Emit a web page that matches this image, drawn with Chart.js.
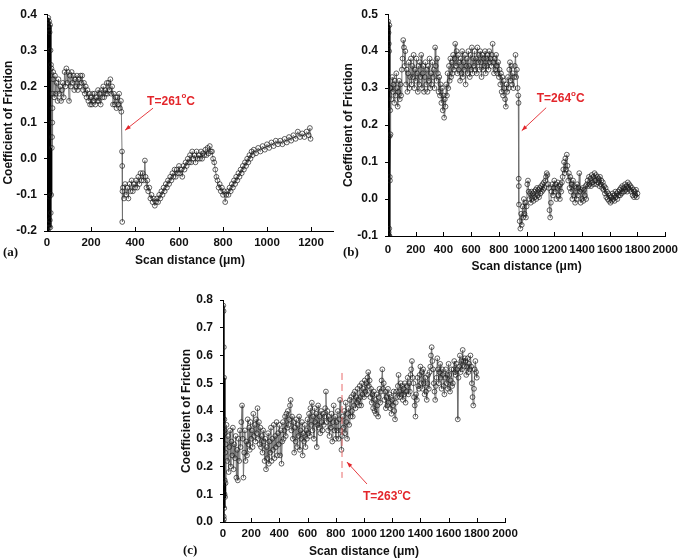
<!DOCTYPE html>
<html lang="en">
<head>
<meta charset="UTF-8">
<title>Coefficient of Friction vs Scan distance</title>
<script src="https://cdn.jsdelivr.net/npm/chart.js"></script>
<style>
  body { margin: 0; background: #fff; }
  #wrap { position: relative; width: 685px; height: 560px; }
  canvas { position: absolute; }
  .tag { position: absolute; font: bold 13px "Liberation Serif", "Times New Roman", serif; color: #111; }
</style>
</head>
<body>
<div id="wrap">
  <canvas id="chartA" width="340" height="270" style="left:0px;top:0px"></canvas>
  <canvas id="chartB" width="345" height="275" style="left:340px;top:0px"></canvas>
  <canvas id="chartC" width="350" height="275" style="left:178px;top:285px"></canvas>
  <div class="tag" style="left:3px;top:244px">(a)</div>
  <div class="tag" style="left:343px;top:244px">(b)</div>
  <div class="tag" style="left:183px;top:542px">(c)</div>
</div>
<script>
// x tick labels
const ticksA = [0, 200, 400, 600, 800, 1000, 1200];
const ticksB = [0, 200, 400, 600, 800, 1000, 1200, 1400, 1600, 1800, 2000];
const ticksC = [0, 200, 400, 600, 800, 1000, 1200, 1400, 1600, 1800, 2000];

// (a) scan distance (um) / coefficient of friction
const scanA = [
  2,3,4,5,6,7,8,9,10,11,
  12,13,14,15,16,17,18,19,20,22,
  23,24,25,26,27,28,32,36,40,44,
  48,52,56,60,64,68,72,76,80,84,
  88,92,96,100,104,108,112,116,120,124,
  128,132,136,140,144,148,152,156,160,164,
  168,172,176,180,184,188,192,196,200,204,
  208,212,216,220,224,228,232,236,240,244,
  248,252,256,260,264,268,272,276,280,284,
  288,292,296,300,304,308,312,316,320,324,
  328,332,336,338,341,342,342,343,345,350,
  355,360,365,370,375,380,385,390,395,400,
  405,410,415,420,425,430,435,440,445,448,
  452,456,460,465,470,475,480,485,490,495,
  500,505,510,515,520,525,530,535,540,545,
  550,555,560,565,570,575,580,585,590,595,
  600,605,610,615,620,625,630,635,640,645,
  650,655,660,665,670,675,680,685,690,695,
  700,705,710,715,720,725,730,735,740,745,
  750,755,760,765,770,775,780,785,790,795,
  800,805,810,815,820,825,830,835,840,845,
  850,855,860,865,870,875,880,885,890,895,
  900,905,910,915,920,925,930,935,940,950,
  960,970,980,990,1000,1010,1020,1030,1040,1050,
  1060,1070,1080,1090,1100,1110,1120,1130,1140,1150,
  1160,1170,1180,1190,1195,1198
];
const cofA = [
  0.38,-0.19,0.37,-0.2,0.39,-0.18,0.36,-0.19,0.38,-0.105,
  0.35,-0.17,0.37,-0.19,0.3,-0.15,0.26,-0.1,0.25,0.03,
  0.06,0.1,0.14,0.18,0.22,0.24,0.17,0.23,0.18,0.21,
  0.16,0.22,0.18,0.2,0.16,0.19,0.21,0.17,0.24,0.2,
  0.25,0.21,0.24,0.16,0.23,0.2,0.24,0.21,0.23,0.19,
  0.22,0.2,0.23,0.19,0.22,0.2,0.23,0.21,0.23,0.19,
  0.21,0.18,0.2,0.17,0.19,0.16,0.18,0.15,0.17,0.15,
  0.18,0.16,0.18,0.15,0.17,0.16,0.19,0.16,0.18,0.15,
  0.19,0.17,0.2,0.17,0.19,0.18,0.21,0.18,0.21,0.19,
  0.22,0.18,0.2,0.15,0.18,0.15,0.17,0.14,0.17,0.15,
  0.18,0.14,0.16,0.13,0.02,-0.02,-0.175,-0.09,-0.08,-0.11,
  -0.07,-0.1,-0.08,-0.11,-0.07,-0.09,-0.06,-0.09,-0.07,-0.08,
  -0.06,-0.08,-0.05,-0.07,-0.04,-0.06,-0.04,-0.06,-0.005,-0.05,
  -0.08,-0.06,-0.09,-0.08,-0.11,-0.1,-0.12,-0.11,-0.13,-0.12,
  -0.11,-0.12,-0.1,-0.11,-0.09,-0.1,-0.08,-0.09,-0.07,-0.08,
  -0.06,-0.07,-0.05,-0.06,-0.04,-0.05,-0.03,-0.05,-0.03,-0.04,
  -0.02,-0.04,-0.03,-0.05,-0.02,-0.03,-0.01,-0.02,0.0,-0.01,
  0.01,-0.01,0.02,0.0,0.01,-0.01,0.02,0.0,0.01,0.0,
  0.02,0.0,0.015,0.01,0.025,0.01,0.03,0.015,0.035,0.02,
  0.02,0.0,-0.01,-0.03,-0.05,-0.06,-0.08,-0.07,-0.09,-0.08,
  -0.1,-0.09,-0.12,-0.1,-0.09,-0.1,-0.08,-0.09,-0.07,-0.08,
  -0.06,-0.07,-0.05,-0.06,-0.04,-0.05,-0.03,-0.04,-0.02,-0.03,
  -0.01,-0.02,0.0,-0.01,0.01,0.0,0.02,0.01,0.025,0.015,
  0.03,0.02,0.035,0.025,0.04,0.03,0.045,0.035,0.05,0.04,
  0.05,0.04,0.055,0.045,0.06,0.05,0.065,0.055,0.075,0.06,
  0.07,0.06,0.075,0.065,0.085,0.055
];

// (b)
const scanB = [
  2,3,4,5,6,7,8,9,10,11,12,13,14,15,16,18,
  20,25,30,35,40,45,50,55,60,65,
  70,75,80,85,90,95,100,105,110,115,
  120,125,130,135,140,145,150,155,160,165,
  170,175,180,185,190,195,200,205,210,215,
  220,225,230,235,240,245,250,255,260,265,
  270,275,280,285,290,295,300,305,310,315,
  320,325,330,335,340,345,350,355,360,365,
  370,375,380,385,390,395,400,405,410,415,
  420,425,430,435,440,445,450,455,460,465,
  470,475,480,485,490,495,500,505,510,515,
  520,525,530,535,540,545,550,555,560,565,
  570,575,580,585,590,595,600,605,610,615,
  620,625,630,635,640,645,650,655,660,665,
  670,675,680,685,690,695,700,705,710,715,
  720,725,730,735,740,745,750,755,760,765,
  770,775,780,785,790,795,800,805,810,815,
  820,825,830,835,840,845,850,855,860,865,
  870,875,880,885,890,895,900,905,910,915,
  920,925,930,935,940,942,943,944,945,
  950,955,960,965,970,975,980,985,990,995,
  1000,1005,1010,1015,1020,1025,1030,1035,1040,1045,
  1050,1055,1060,1065,1070,1075,1080,1085,1090,1095,
  1100,1105,1110,1115,1120,1125,1130,1135,1140,1145,
  1150,1155,1160,1165,1170,1175,1180,1185,1190,1195,
  1200,1205,1210,1215,1220,1225,1230,1235,1240,1245,
  1250,1255,1260,1265,1270,1275,1280,1285,1290,1295,
  1300,1305,1310,1315,1320,1325,1330,1335,1340,1345,
  1350,1355,1360,1365,1370,1375,1380,1385,1390,1395,
  1400,1405,1410,1415,1420,1425,1430,1435,1440,1445,
  1450,1455,1460,1465,1470,1475,1480,1485,1490,1495,
  1500,1505,1510,1515,1520,1525,1530,1535,1540,1545,
  1550,1555,1560,1565,1570,1575,1580,1585,1590,1595,
  1600,1605,1610,1615,1620,1625,1630,1635,1640,1645,
  1650,1655,1660,1665,1670,1675,1680,1685,1690,1695,
  1700,1705,1710,1715,1720,1725,1730,1735,1740,1745,
  1750,1755,1760,1765,1770,1775,1780,1785,1790,1795,
  1800
];
const cofB = [
  0.48,-0.1,0.45,-0.09,0.42,-0.1,0.4,-0.08,0.47,-0.1,0.17,0.06,0.05,0.3,0.24,0.175,
  0.30,0.27,0.33,0.29,0.31,0.26,0.32,0.28,0.34,0.30,
  0.25,0.29,0.32,0.27,0.31,0.28,0.35,0.38,0.43,0.41,
  0.36,0.40,0.31,0.35,0.29,0.34,0.37,0.30,0.33,0.38,
  0.31,0.36,0.33,0.39,0.30,0.35,0.32,0.38,0.34,0.29,
  0.36,0.31,0.37,0.33,0.39,0.30,0.34,0.36,0.29,0.33,
  0.37,0.31,0.35,0.29,0.36,0.32,0.38,0.30,0.34,0.31,
  0.37,0.33,0.35,0.30,0.41,0.36,0.32,0.38,0.34,0.29,
  0.33,0.28,0.31,0.26,0.30,0.24,0.28,0.22,0.27,0.25,
  0.31,0.28,0.34,0.30,0.36,0.32,0.38,0.33,0.37,0.34,
  0.39,0.35,0.38,0.42,0.36,0.40,0.34,0.39,0.35,0.37,
  0.32,0.38,0.34,0.40,0.33,0.37,0.35,0.39,0.31,0.36,
  0.38,0.34,0.40,0.36,0.33,0.39,0.35,0.41,0.34,0.38,
  0.36,0.40,0.35,0.38,0.34,0.41,0.37,0.39,0.35,0.40,
  0.37,0.33,0.39,0.35,0.38,0.36,0.40,0.34,0.38,0.36,
  0.39,0.35,0.40,0.37,0.38,0.36,0.39,0.42,0.37,0.34,
  0.38,0.35,0.39,0.36,0.34,0.37,0.33,0.35,0.31,0.34,
  0.29,0.33,0.28,0.32,0.30,0.27,0.25,0.31,0.29,0.33,
  0.30,0.35,0.37,0.32,0.36,0.31,0.34,0.30,0.33,0.36,
  0.39,0.33,0.35,0.30,0.28,0.26,0.055,0.035,-0.015,
  -0.06,-0.08,-0.04,-0.07,-0.02,-0.05,0.00,-0.04,-0.01,-0.05,
  -0.02,0.04,0.05,0.02,0.0,0.015,-0.01,0.02,0.0,0.015,
  -0.005,0.02,0.005,0.025,0.0,0.03,0.01,0.025,0.005,0.03,
  0.015,0.035,0.02,0.04,0.025,0.045,0.03,0.05,0.06,0.07,
  0.065,0.04,0.03,-0.03,-0.05,-0.01,0.02,0.04,0.01,0.03,
  0.05,0.02,0.04,0.0,0.03,0.045,0.01,0.035,0.0,0.04,
  0.02,0.045,0.06,0.08,0.1,0.07,0.11,0.08,0.12,0.09,
  0.05,0.07,0.03,0.06,0.02,0.04,0.0,0.05,0.01,0.035,
  -0.01,0.03,0.0,0.04,0.01,0.03,0.07,0.02,-0.01,0.025,
  0.0,0.03,-0.005,0.025,0.01,0.035,0.0,0.04,0.05,0.035,
  0.06,0.04,0.055,0.035,0.065,0.045,0.06,0.04,0.07,0.05,
  0.065,0.04,0.06,0.045,0.055,0.035,0.06,0.04,0.05,0.03,
  0.045,0.025,0.035,0.015,0.03,0.005,0.02,0.0,0.015,-0.005,
  0.01,-0.01,0.005,-0.005,0.015,0.0,0.01,-0.005,0.02,0.005,
  0.015,0.0,0.02,0.01,0.025,0.01,0.03,0.015,0.035,0.02,
  0.03,0.02,0.04,0.025,0.035,0.02,0.045,0.03,0.04,0.025,
  0.035,0.02,0.03,0.01,0.025,0.005,0.02,0.01,0.025,0.005,
  0.015
];

// (c)
const scanC = [
  2,3,4,5,6,7,8,9,10,11,12,13,14,15,16,18,20,
  25,30,35,40,45,50,55,60,65,70,
  75,80,85,90,95,100,105,110,115,120,
  125,130,135,140,145,150,155,160,165,170,
  175,180,185,190,195,200,205,210,215,220,
  225,230,235,240,245,250,255,260,265,270,
  275,280,285,290,295,300,305,310,315,320,
  325,330,335,340,345,350,355,360,365,370,
  375,380,385,390,395,400,405,410,415,420,
  425,430,435,440,445,450,455,460,465,470,
  475,480,485,490,495,500,505,510,515,520,
  525,530,535,540,545,550,555,560,565,570,
  575,580,585,590,595,600,605,610,615,620,
  625,630,635,640,645,650,655,660,665,670,
  675,680,685,690,695,700,705,710,715,720,
  725,730,735,740,745,750,755,760,765,770,
  775,780,785,790,795,800,805,810,815,820,
  825,830,835,840,845,850,855,860,865,870,
  875,880,885,890,895,900,905,910,915,920,
  925,930,935,940,945,950,955,960,965,970,
  975,980,985,990,995,1000,1005,1010,1015,1020,
  1025,1030,1035,1040,1045,1050,1055,1060,1065,1070,
  1075,1080,1085,1090,1095,1100,1105,1110,1115,1120,
  1125,1130,1135,1140,1145,1150,1155,1160,1165,1170,
  1175,1180,1185,1190,1195,1200,1205,1210,1215,1220,
  1225,1230,1235,1240,1245,1250,1255,1260,1265,1270,
  1275,1280,1285,1290,1295,1300,1305,1310,1315,1320,
  1325,1330,1335,1340,1345,1350,1355,1360,1365,1370,
  1375,1380,1385,1390,1395,1400,1405,1410,1415,1420,
  1425,1430,1435,1440,1445,1450,1455,1460,1465,1470,
  1475,1480,1485,1490,1495,1500,1505,1510,1515,1520,
  1525,1530,1535,1540,1545,1550,1555,1560,1565,1570,
  1575,1580,1585,1590,1595,1600,1605,1610,1615,1620,
  1625,1630,1635,1640,1645,1650,1655,1660,1665,1670,
  1675,1680,1685,1690,1695,1700,1705,1710,1715,1720,
  1725,1730,1735,1740,1745,1750,1755,1760,1765,1770,
  1775,1780,1785,1790,1795,1800
];
const cofC = [
  0.78,0.0,0.76,0.02,0.63,0.01,0.52,0.05,0.37,0.1,0.33,0.15,0.32,0.09,0.25,0.14,0.28,
  0.35,0.22,0.31,0.18,0.27,0.33,0.2,0.29,0.24,0.34,
  0.19,0.28,0.23,0.31,0.16,0.26,0.15,0.3,0.22,0.33,
  0.27,0.36,0.42,0.3,0.16,0.25,0.33,0.22,0.29,0.24,
  0.37,0.28,0.34,0.26,0.36,0.3,0.33,0.27,0.39,0.31,
  0.35,0.29,0.37,0.32,0.41,0.3,0.36,0.28,0.34,0.27,
  0.31,0.25,0.33,0.29,0.22,0.3,0.19,0.27,0.23,0.32,
  0.21,0.29,0.25,0.34,0.22,0.3,0.26,0.35,0.23,0.31,
  0.27,0.36,0.24,0.32,0.28,0.35,0.24,0.33,0.21,0.29,
  0.36,0.3,0.33,0.38,0.31,0.39,0.34,0.4,0.35,0.37,
  0.42,0.44,0.33,0.38,0.3,0.36,0.25,0.34,0.29,0.37,
  0.27,0.35,0.31,0.38,0.26,0.33,0.3,0.36,0.24,0.32,
  0.29,0.35,0.27,0.33,0.3,0.37,0.32,0.39,0.31,0.41,
  0.35,0.43,0.33,0.38,0.3,0.41,0.36,0.39,0.27,0.35,
  0.42,0.34,0.38,0.32,0.4,0.36,0.33,0.39,0.35,0.38,
  0.41,0.47,0.36,0.4,0.33,0.38,0.31,0.37,0.34,0.39,
  0.29,0.36,0.42,0.33,0.38,0.3,0.36,0.33,0.4,0.3,
  0.37,0.44,0.33,0.26,0.31,0.38,0.34,0.4,0.32,0.43,
  0.36,0.3,0.39,0.41,0.35,0.44,0.38,0.45,0.4,0.38,
  0.46,0.42,0.47,0.41,0.45,0.43,0.48,0.44,0.42,0.49,
  0.45,0.42,0.5,0.46,0.48,0.45,0.51,0.47,0.5,0.46,
  0.52,0.54,0.49,0.51,0.45,0.48,0.43,0.46,0.41,0.47,
  0.4,0.44,0.39,0.46,0.42,0.38,0.45,0.48,0.43,0.47,
  0.51,0.55,0.48,0.5,0.44,0.47,0.41,0.45,0.42,0.48,
  0.43,0.46,0.41,0.45,0.39,0.44,0.42,0.47,0.4,0.37,
  0.43,0.47,0.45,0.49,0.53,0.47,0.45,0.5,0.46,0.49,
  0.44,0.48,0.46,0.5,0.43,0.47,0.49,0.52,0.46,0.5,
  0.47,0.53,0.55,0.58,0.52,0.5,0.45,0.42,0.38,0.46,
  0.44,0.52,0.49,0.48,0.53,0.56,0.5,0.54,0.48,0.55,
  0.5,0.46,0.52,0.47,0.44,0.5,0.53,0.48,0.54,0.56,
  0.6,0.63,0.58,0.55,0.5,0.47,0.44,0.49,0.52,0.59,
  0.55,0.5,0.54,0.57,0.52,0.48,0.55,0.53,0.49,0.46,
  0.52,0.55,0.5,0.53,0.48,0.57,0.53,0.47,0.51,0.55,
  0.49,0.5,0.55,0.58,0.54,0.53,0.57,0.55,0.37,0.52,
  0.56,0.6,0.54,0.58,0.55,0.62,0.58,0.56,0.59,0.58,
  0.53,0.56,0.59,0.54,0.57,0.55,0.6,0.56,0.5,0.45,
  0.42,0.48,0.55,0.58,0.54,0.52
];

const RED = '#e3262b';
const TXT = '#111';
const FONT = 'Arial, "Liberation Sans", sans-serif';

// inward x ticks + transition-temperature note
function marks(note) {
  return {
    id: 'marks',
    afterDraw(chart) {
      const {ctx, chartArea, scales: {x, y}} = chart;
      ctx.save();
      ctx.strokeStyle = '#000';
      ctx.lineWidth = 1;
      x.ticks.forEach(t => {
        const px = Math.round(x.getPixelForValue(t.value)) + 0.5;
        ctx.beginPath();
        ctx.moveTo(px, chartArea.bottom);
        ctx.lineTo(px, chartArea.bottom - 4);
        ctx.stroke();
      });

      if (note.dash) {
        const dx = x.getPixelForValue(note.dash[0]);
        ctx.strokeStyle = '#e86a6a';
        ctx.setLineDash([7, 4]);
        ctx.beginPath();
        ctx.moveTo(dx, y.getPixelForValue(note.dash[1]));
        ctx.lineTo(dx, y.getPixelForValue(note.dash[2]));
        ctx.stroke();
        ctx.setLineDash([]);
      }

      // arrow
      const x0 = x.getPixelForValue(note.from[0]), y0 = y.getPixelForValue(note.from[1]);
      const x1 = x.getPixelForValue(note.to[0]), y1 = y.getPixelForValue(note.to[1]);
      const ang = Math.atan2(y1 - y0, x1 - x0);
      ctx.strokeStyle = RED;
      ctx.fillStyle = RED;
      ctx.lineWidth = 0.9;
      ctx.beginPath();
      ctx.moveTo(x0, y0);
      ctx.lineTo(x1, y1);
      ctx.stroke();
      ctx.beginPath();
      ctx.moveTo(x1, y1);
      ctx.lineTo(x1 - 6 * Math.cos(ang - 0.35), y1 - 6 * Math.sin(ang - 0.35));
      ctx.lineTo(x1 - 6 * Math.cos(ang + 0.35), y1 - 6 * Math.sin(ang + 0.35));
      ctx.closePath();
      ctx.fill();

      // label T=xxx°C with raised "o"
      const cx = x.getPixelForValue(note.at[0]), cy = y.getPixelForValue(note.at[1]);
      const big = 'bold 12px ' + FONT, small = 'bold 8px ' + FONT;
      const head = 'T=' + note.text;
      ctx.font = big;
      const w1 = ctx.measureText(head).width, w3 = ctx.measureText('C').width;
      ctx.font = small;
      const w2 = ctx.measureText('o').width;
      const sx = cx - (w1 + w2 + w3) / 2;
      ctx.textBaseline = 'middle';
      ctx.textAlign = 'left';
      ctx.font = big;
      ctx.fillText(head, sx, cy);
      ctx.font = small;
      ctx.fillText('o', sx + w1, cy - 5);
      ctx.font = big;
      ctx.fillText('C', sx + w1 + w2, cy);
      ctx.restore();
    }
  };
}

function frictionChart(id, xs, ys, tickVals, cfg) {
  const points = xs.map((v, i) => ({x: v, y: ys[i]}));
  // the start-up burst near x = 0 prints as a solid black bar
  const inBurst = c => c.p1.parsed.x <= cfg.burstEnd;
  return new Chart(document.getElementById(id), {
    type: 'scatter',
    data: {
      datasets: [{
        data: points,
        showLine: true,
        borderColor: '#6e6e6e',
        borderWidth: 0.9,
        segment: {
          borderColor: c => inBurst(c) ? '#000' : undefined,
          borderWidth: c => inBurst(c) ? 2 : undefined
        },
        pointRadius: 2.4,
        pointBorderWidth: 0.8,
        pointBorderColor: 'rgba(25,25,25,0.85)',
        pointBackgroundColor: 'rgba(255,255,255,0)'
      }]
    },
    options: {
      responsive: false,
      animation: false,
      devicePixelRatio: 1,
      layout: { padding: cfg.pad },
      plugins: { legend: { display: false }, tooltip: { enabled: false } },
      scales: {
        x: {
          type: 'linear',
          min: 0,
          max: cfg.xMax,
          afterBuildTicks: s => { s.ticks = tickVals.map(v => ({ value: v })); },
          afterFit: s => { s.height = cfg.xH; },
          ticks: { autoSkip: false, maxRotation: 0, minRotation: 0, padding: cfg.xPad,
                   callback: v => String(v),
                   color: TXT, font: { family: FONT, size: 11.5, weight: 'bold' } },
          grid: { drawOnChartArea: false, drawTicks: false },
          border: { color: '#000', width: 1 },
          title: { display: true, text: 'Scan distance (μm)', color: TXT, padding: 0,
                   font: { family: FONT, size: 12, weight: 'bold' } }
        },
        y: {
          min: cfg.yMin,
          max: cfg.yMax,
          afterFit: s => { s.width = cfg.yW; },
          ticks: { stepSize: 0.1, padding: 7, color: TXT,
                   callback: v => (Math.abs(v) < 1e-9 ? 0 : v).toFixed(1),
                   font: { family: FONT, size: 12, weight: 'bold' } },
          grid: { drawOnChartArea: false, drawTicks: true, tickLength: 3, color: '#000' },
          border: { color: '#000', width: 1 },
          title: { display: true, text: 'Coefficient of Friction', color: TXT, padding: { top: 1, bottom: 0 },
                   font: { family: FONT, size: 12, weight: 'bold' } }
        }
      }
    },
    plugins: [marks(cfg.note)]
  });
}

frictionChart('chartA', scanA, cofA, ticksA, {
  pad: { top: 7, right: 7, bottom: 2, left: 0 }, burstEnd: 20,
  xMax: 1300, xH: 37, xPad: 5, yW: 47, yMin: -0.2, yMax: 0.4,
  note: { text: '261', at: [564, 0.159], from: [482, 0.14], to: [355, 0.079] }
});
frictionChart('chartB', scanB, cofB, ticksB, {
  pad: { top: 13, right: 13, bottom: 1, left: 0 }, burstEnd: 16,
  xMax: 2000, xH: 38, xPad: 7, yW: 48, yMin: -0.1, yMax: 0.5,
  note: { text: '264', at: [1246, 0.271], from: [1141, 0.247], to: [965, 0.185] }
});
frictionChart('chartC', scanC, cofC, ticksC, {
  pad: { top: 15, right: 23, bottom: 1, left: 0 }, burstEnd: 16,
  xMax: 2000, xH: 37, xPad: 5, yW: 45, yMin: 0, yMax: 0.8,
  note: { text: '263', at: [1163, 0.09], from: [1021, 0.137], to: [879, 0.216], dash: [844, 0.537, 0.159] }
});
</script>
</body>
</html>
